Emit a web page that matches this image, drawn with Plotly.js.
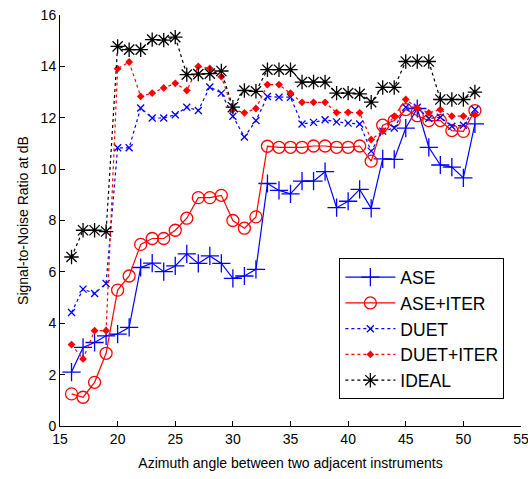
<!DOCTYPE html>
<html>
<head>
<meta charset="utf-8">
<script src="https://cdn.plot.ly/plotly-3.0.1.min.js"></script>
<style>html,body{margin:0;padding:0;background:#fff;}#chart{width:528px;height:479px;}</style>
</head>
<body>
<div id="chart"></div>
<script>
const angles = [16,17,18,19,20,21,22,23,24,25,26,27,28,29,30,31,32,33,34,35,36,37,38,39,40,41,42,43,44,45,46,47,48,49,50,51];
const ase = [2.1,3.06,3.25,3.51,3.58,3.84, 6.17,6.34,6.01,6.23,6.7,6.33, 6.62,6.33,5.75,5.84,6.1, 9.44,9.17,9.04,9.53,9.53,9.9, 8.5,8.75,9.21,8.47,10.4,10.38, 11.6,12.36,10.85,10.16,10.08,9.66,11.76];
const aseIter = [1.25,1.12,1.7,2.83,5.29,5.84, 7.07,7.3,7.3,7.62,8.09,8.89, 8.89,8.98,8.0,7.7,8.14, 10.89,10.85,10.85,10.85,10.9,10.9, 10.85,10.85,10.9,10.31,11.71,11.89, 12.32,12.08,11.89,11.89,11.5,11.47,12.28];
const duet = [4.42,5.33,5.16,5.55,10.83,10.83, 12.38,11.99,11.99,12.12,12.41,12.28, 13.2,12.96,12.06,11.25,11.89, 12.83,12.8,12.8,11.76,11.82,11.92, 11.84,11.79,11.76,10.7,11.48,11.6, 12.41,12.41,11.97,12.02,11.67,11.71,12.32];
const duetIter = [3.17,2.61,3.71,3.71,13.91,14.17, 12.83,12.96,13.16,13.34,13.06,14.0, 13.92,13.6,12.32,12.19,12.36, 13.29,13.29,12.96,12.6,12.6,12.6, 12.2,12.21,12.19,11.15,11.48,12.06, 12.71,12.38,12.19,12.32,12.06,12.06,12.12];
const ideal = [6.58,7.62,7.62,7.57,14.78,14.65, 14.65,15.04,15.02,15.14,13.68,13.7, 13.72,13.82,12.41,13.06,13.03, 13.87,13.87,13.87,13.39,13.39,13.39, 12.96,12.96,12.93,12.61,13.18,13.18, 14.19,14.19,14.19,12.71,12.71,12.71,13.0];
const xTicks = [15,20,25,30,35,40,45,50,55];
const yTicks = [0,2,4,6,8,10,12,14,16];

const font = {family: '"Liberation Sans", Arial, sans-serif', size: 14, color: '#000'};
const dotted = '3px,3px';
const traces = [
  {x: angles, y: ase, name: 'ASE', mode: 'lines+markers',
   line: {color: '#0000ff', width: 1.2},
   marker: {symbol: 'cross-thin-open', size: 13, color: '#0000ff', line: {color: '#0000ff', width: 1.3}}},
  {x: angles, y: aseIter, name: 'ASE+ITER', mode: 'lines+markers',
   line: {color: '#ff0000', width: 1.2},
   marker: {symbol: 'circle-open', size: 12, color: '#ff0000', line: {color: '#ff0000', width: 1.3}}},
  {x: angles, y: duet, name: 'DUET', mode: 'lines+markers',
   line: {color: '#0000ff', width: 1.2, dash: dotted},
   marker: {symbol: 'x-thin-open', size: 7, color: '#0000ff', line: {color: '#0000ff', width: 1.3}}},
  {x: angles, y: duetIter, name: 'DUET+ITER', mode: 'lines+markers',
   line: {color: '#ff0000', width: 1.2, dash: dotted},
   marker: {symbol: 'diamond', size: 6, color: '#ff0000'}},
  {x: angles, y: ideal, name: 'IDEAL', mode: 'lines+markers',
   line: {color: '#000000', width: 1.2, dash: dotted},
   marker: {symbol: 'asterisk-open', size: 12, color: '#000', line: {color: '#000', width: 1.3}}}
];
const layout = {
  width: 528, height: 479,
  margin: {l: 60, r: 7, t: 15, b: 53},
  paper_bgcolor: '#fff', plot_bgcolor: '#fff',
  font: font,
  showlegend: true,
  legend: {x: 0.606, y: 0.408, xanchor: 'left', yanchor: 'top',
    bgcolor: '#fff', bordercolor: '#000', borderwidth: 1,
    font: {family: font.family, size: 17.5, color: '#000'},
    itemwidth: 50, tracegroupgap: 0},
  xaxis: {range: [15, 55], tickvals: xTicks, ticktext: xTicks.map(String),
    ticks: 'inside', ticklen: 5, tickcolor: '#000', showgrid: false, zeroline: false,
    showline: true, linecolor: '#000', linewidth: 1, mirror: false,
    tickfont: font, ticklabeloverflow: 'allow',
    title: {text: 'Azimuth angle between two adjacent instruments', font: font, standoff: 12}},
  yaxis: {range: [0, 16], tickvals: yTicks, ticktext: yTicks.map(String),
    ticks: 'inside', ticklen: 5, tickcolor: '#000', showgrid: false, zeroline: false,
    showline: true, linecolor: '#000', linewidth: 1, mirror: false,
    tickfont: font,
    title: {text: 'Signal-to-Noise Ratio at dB', font: font, standoff: 8}}
};
Plotly.newPlot('chart', traces, layout, {displayModeBar: false, staticPlot: true});
</script>
</body>
</html>
